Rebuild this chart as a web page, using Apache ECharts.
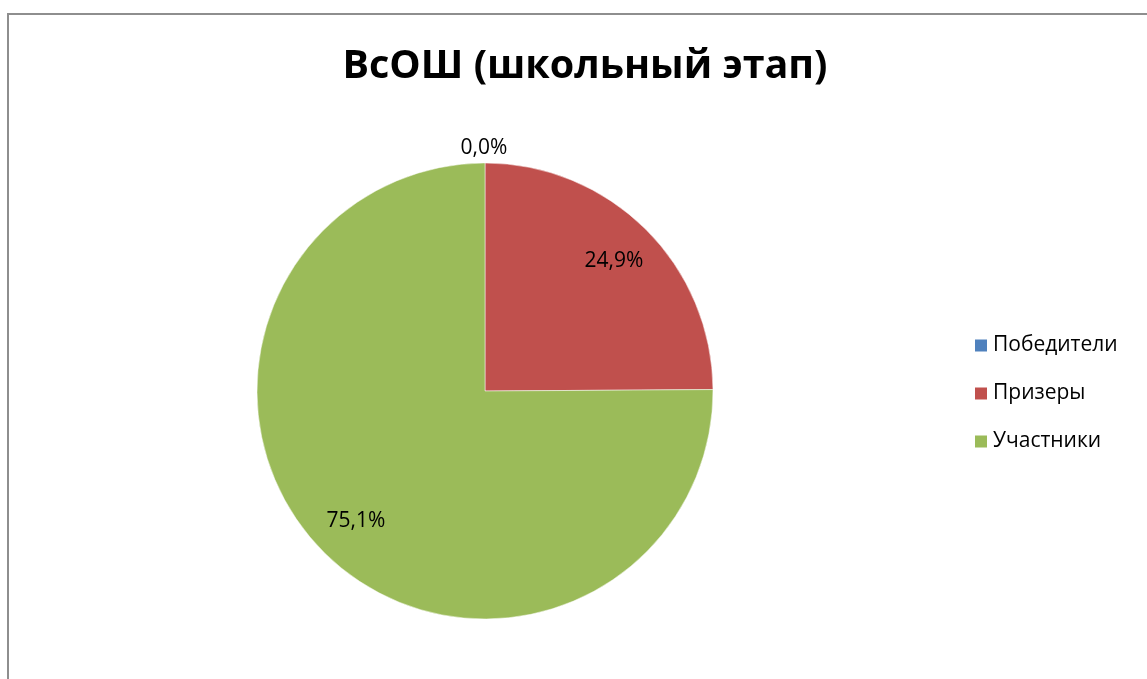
<!DOCTYPE html>
<html>
<head>
<meta charset="utf-8">
<script src="https://cdn.jsdelivr.net/npm/echarts@6/dist/echarts.min.js"></script>
<style>
html, body { margin: 0; padding: 0; background: #fff; }
#ech { width: 1147px; height: 679px; }
</style>
</head>
<body>
<div id="ech"></div>
<script>
var titleText = 'ВсОШ (школьный этап)';
var categories = ['Победители', 'Призеры', 'Участники'];
var values = [0.0, 24.9, 75.1];
var colors = ['#4f81bd', '#c0504d', '#9bbb59'];

function fmt(p) {
	return p.value.toFixed(1).replace('.', ',') + '%';
}

function showEchart() {
	var myChart = echarts.init(document.getElementById('ech'));
	var mainData = [];
	var labelData = [];
	for (var i = 0; i < categories.length; i++) {
		mainData.push({
			name: categories[i],
			value: values[i],
			label: { show: values[i] === 0 }
		});
		labelData.push({
			name: categories[i],
			value: values[i],
			label: { show: values[i] !== 0 }
		});
	}
	var option = {
		color: colors,
		animation: false,
		graphic: [{
			type: 'rect',
			shape: { x: 8, y: 14, width: 1300, height: 800 },
			style: { fill: 'none', stroke: '#8e8e8e', lineWidth: 2 },
			silent: true
		}],
		title: {
			text: titleText,
			left: 580,
			textAlign: 'center',
			top: 42,
			textStyle: { fontFamily: 'Open Sans', fontWeight: 'bold', fontSize: 39.5, color: '#000' }
		},
		legend: {
			orient: 'vertical',
			left: 973,
			top: 335,
			padding: 0,
			itemWidth: 14,
			itemHeight: 14,
			itemGap: 27,
			icon: 'rect',
			data: categories,
			textStyle: { fontFamily: 'Open Sans', fontSize: 21, color: '#000', lineHeight: 21, padding: [0, 0, 0, 0] }
		},
		series: [{
			name: 'main',
			type: 'pie',
			center: [485, 391],
			radius: 228,
			startAngle: 90,
			clockwise: true,
			silent: true,
			itemStyle: { borderColor: '#fff', borderWidth: 0.5 },
			label: {
				position: 'outside',
				formatter: fmt,
				fontFamily: 'Open Sans',
				fontSize: 21,
				color: '#000'
			},
			labelLine: { show: false, length: 15, length2: 0 },
			labelLayout: function (p) {
				return { dx: p.labelRect.width / 2 + 4 };
			},
			data: mainData
		}, {
			name: 'labels',
			type: 'pie',
			center: [485, 391],
			radius: [132, 228],
			startAngle: 90,
			clockwise: true,
			silent: true,
			itemStyle: { color: 'transparent' },
			label: {
				position: 'inside',
				formatter: fmt,
				fontFamily: 'Open Sans',
				fontSize: 21,
				color: '#000'
			},
			labelLine: { show: false },
			data: labelData
		}]
	};
	myChart.setOption(option);
}
showEchart();
</script>
</body>
</html>
